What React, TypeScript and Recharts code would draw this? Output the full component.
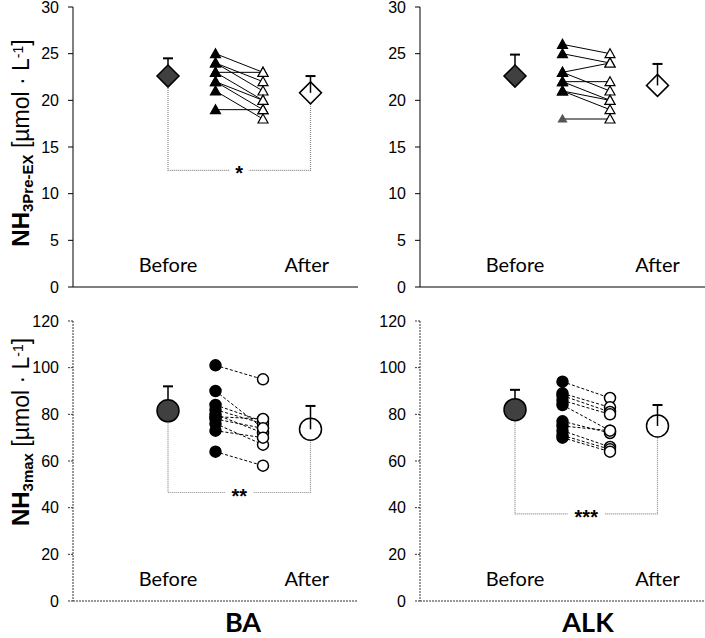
import React from "react";
import { ComposedChart, Scatter, XAxis, YAxis, ReferenceDot } from "recharts";

const X_TICKS = [0, 1, 2, 3];
const PRE_TICKS = [0, 5, 10, 15, 20, 25, 30];
const MAX_TICKS = [0, 20, 40, 60, 80, 100, 120];

// x positions (axis units) of the mean markers and of the individual subjects
const MEAN_X = [1, 2.5];
const SUBJ_X = [1.5, 2];

// NH3 pre-exercise, individual subjects (before -> after)
const BA_PRE_BEFORE = [25, 24, 24, 23, 23, 22, 22, 21, 19];
const BA_PRE_AFTER = [23, 22, 21, 23, 20, 20, 19, 18, 19];
const ALK_PRE_BEFORE = [26, 25, 23, 22, 23, 22, 21, 21, 18];
const ALK_PRE_AFTER = [25, 24, 24, 22, 21, 20, 19, 20, 18];

// NH3 max, individual subjects
const BA_MAX_BEFORE = [101, 90, 84, 82, 80, 79, 78, 76, 73, 64];
const BA_MAX_AFTER = [95, 74, 77, 76, 72, 78, 74, 67, 70, 58];
const ALK_MAX_BEFORE = [94, 89, 88, 86, 84, 77, 75, 73, 71, 70];
const ALK_MAX_AFTER = [87, 83, 81, 80, 73, 72, 73, 66, 65, 64];

// group means and SD [before, after]
const BA_PRE_MEAN = [22.6, 20.8];
const BA_PRE_SD = [1.9, 1.8];
const ALK_PRE_MEAN = [22.6, 21.6];
const ALK_PRE_SD = [2.3, 2.3];
const BA_MAX_MEAN = [81.5, 73.6];
const BA_MAX_SD = [10.5, 10];
const ALK_MAX_MEAN = [82, 75];
const ALK_MAX_SD = [8.5, 9];

// significance bracket level and stars
const BA_PRE_SIG = { level: 12.5, stars: "*" };
const BA_MAX_SIG = { level: 46.5, stars: "**" };
const ALK_MAX_SIG = { level: 37.3, stars: "***" };

const PHASES = ["Before", "After"];
const GROUPS = ["BA", "ALK"];

const TICK_FONT = "'Liberation Sans', Arial, sans-serif";
const LABEL_FONT = "Lato, 'Open Sans', sans-serif";

const empty = () => <g />;

function marker(kind: string, filled: boolean, big: boolean) {
  return (p: any) => {
    const { cx, cy, payload } = p;
    const fill = filled ? (big ? "#404040" : payload?.faint ? "#555" : "#000") : "#fff";
    const stroke = payload?.faint ? "#555" : "#000";
    if (kind === "tri" && !big) {
      const s = payload?.faint ? 4 : 5;
      return (
        <path
          d={`M${cx},${cy - s} L${cx + s},${cy + s - 1} L${cx - s},${cy + s - 1} Z`}
          fill={fill}
          stroke={stroke}
          strokeWidth={1.2}
        />
      );
    }
    if (kind === "tri") {
      const s = 11;
      return (
        <path
          d={`M${cx},${cy - s} L${cx + s},${cy} L${cx},${cy + s} L${cx - s},${cy} Z`}
          fill={fill}
          stroke="#000"
          strokeWidth={1.5}
        />
      );
    }
    return <circle cx={cx} cy={cy} r={big ? 11 : 5.5} fill={fill} stroke="#000" strokeWidth={1.5} />;
  };
}

const cap = (p: any) =>
  p.payload?.cap ? (
    <line x1={p.cx - 5} x2={p.cx + 5} y1={p.cy} y2={p.cy} stroke="#000" strokeWidth={2} />
  ) : (
    <g />
  );

interface PanelProps {
  left: number;
  top: number;
  width: number;
  yWidth: number;
  maxY: number;
  ticks: number[];
  before: number[];
  after: number[];
  mean: number[];
  sd: number[];
  kind: string;
  dashed: boolean;
  sig: { level: number; stars: string } | null;
  faint?: number[];
  afterLabelX: number;
}

function Panel(props: PanelProps) {
  const { left, top, width, yWidth, maxY, ticks, before, after, mean, sd, kind, dashed, sig, faint = [], afterLabelX } = props;
  const axisStyle = dashed ? { stroke: "#333", strokeDasharray: "2 1" } : { stroke: "#000" };
  const pairDash = dashed ? "3 2" : undefined;
  const labelY = maxY * 0.078;

  const beforePts = before.map((y, i) => ({ x: SUBJ_X[0], y, faint: faint.includes(i) }));
  const afterPts = after.map((y) => ({ x: SUBJ_X[1], y }));
  const errBefore = [
    { x: MEAN_X[0], y: mean[0] },
    { x: MEAN_X[0], y: mean[0] + sd[0], cap: true },
  ];
  const errAfter = [
    { x: MEAN_X[1], y: mean[1] },
    { x: MEAN_X[1], y: mean[1] + sd[1], cap: true },
  ];

  return (
    <div style={{ position: "absolute", left, top }}>
      <ComposedChart width={width} height={307} margin={{ top: 7, right: 2, bottom: 0, left: 0 }}>
        <XAxis
          type="number"
          dataKey="x"
          domain={[0, 3]}
          ticks={X_TICKS}
          tick={false}
          tickSize={5}
          height={20}
          axisLine={axisStyle}
          tickLine={axisStyle}
          allowDataOverflow
        />
        <YAxis
          type="number"
          dataKey="y"
          domain={[0, maxY]}
          ticks={ticks}
          interval={0}
          width={yWidth}
          tickSize={5}
          tickMargin={9}
          tick={{ fontSize: 16, fill: "#000", fontFamily: TICK_FONT }}
          axisLine={axisStyle}
          tickLine={axisStyle}
          allowDataOverflow
        />

        {sig && (
          <Scatter
            data={[
              { x: MEAN_X[0], y: mean[0] },
              { x: MEAN_X[0], y: sig.level },
              { x: MEAN_X[1], y: sig.level },
              { x: MEAN_X[1], y: mean[1] },
            ]}
            line={{ stroke: "#888", strokeWidth: 1.2, strokeDasharray: "1 1" }}
            shape={empty}
            isAnimationActive={false}
          />
        )}
        {sig && (
          <ReferenceDot
            x={1.75}
            y={sig.level}
            r={0}
            shape={(p: any) => (
              <g>
                <rect x={p.cx - 5 - 4.5 * sig.stars.length} y={p.cy - 6} width={10 + 9 * sig.stars.length} height={12} fill="#fff" />
                <text x={p.cx} y={p.cy + 10} textAnchor="middle" fontSize={20} fontWeight="bold" fontFamily={TICK_FONT} fill="#000">
                  {sig.stars}
                </text>
              </g>
            )}
          />
        )}

        {before.map((b, i) => (
          <Scatter
            key={`pair-${i}`}
            data={[
              { x: SUBJ_X[0], y: b },
              { x: SUBJ_X[1], y: after[i] },
            ]}
            line={{ stroke: "#000", strokeWidth: 1, strokeDasharray: pairDash }}
            shape={empty}
            isAnimationActive={false}
          />
        ))}

        <Scatter data={errBefore} line={{ stroke: "#000", strokeWidth: 1.5 }} shape={cap} isAnimationActive={false} />
        <Scatter data={[{ x: MEAN_X[0], y: mean[0] }]} shape={marker(kind, true, true)} isAnimationActive={false} />
        <Scatter data={[{ x: MEAN_X[1], y: mean[1] }]} shape={marker(kind, false, true)} isAnimationActive={false} />
        <Scatter data={errAfter} line={{ stroke: "#000", strokeWidth: 1.5 }} shape={cap} isAnimationActive={false} />

        <Scatter data={beforePts} shape={marker(kind, true, false)} isAnimationActive={false} />
        <Scatter data={afterPts} shape={marker(kind, false, false)} isAnimationActive={false} />

        {PHASES.map((ph, i) => (
          <ReferenceDot
            key={ph}
            x={i === 0 ? MEAN_X[0] : afterLabelX}
            y={labelY}
            r={0}
            shape={(p: any) => (
              <text x={p.cx} y={p.cy + 7} textAnchor="middle" fontSize={20} fontFamily={LABEL_FONT} fill="#000">
                {ph}
              </text>
            )}
          />
        ))}
      </ComposedChart>
    </div>
  );
}

function YTitle({ x, y, sub }: { x: number; y: number; sub: string }) {
  return (
    <div
      style={{
        position: "absolute",
        left: x,
        top: y,
        transform: "translate(-50%, -50%) rotate(-90deg)",
        whiteSpace: "nowrap",
        fontFamily: TICK_FONT,
        color: "#000",
        lineHeight: 1,
      }}
    >
      <span style={{ fontWeight: "bold", fontSize: 24 }}>NH</span>
      <sub style={{ fontWeight: "bold", fontSize: 15 }}>{sub}</sub>
      <span style={{ fontSize: 23 }}> [µmol · L</span>
      <sup style={{ fontSize: 14 }}>-1</sup>
      <span style={{ fontSize: 23 }}>]</span>
    </div>
  );
}

export default function App() {
  return (
    <div style={{ position: "absolute", left: 0, top: 0, width: 705, height: 638, background: "#fff", overflow: "hidden" }}>
      <Panel left={0} top={0} width={360} yWidth={73} maxY={30} ticks={PRE_TICKS}
        before={BA_PRE_BEFORE} after={BA_PRE_AFTER} mean={BA_PRE_MEAN} sd={BA_PRE_SD}
        kind="tri" dashed={false} sig={BA_PRE_SIG} afterLabelX={2.46} />
      <Panel left={370} top={0} width={337} yWidth={50} maxY={30} ticks={PRE_TICKS}
        before={ALK_PRE_BEFORE} after={ALK_PRE_AFTER} mean={ALK_PRE_MEAN} sd={ALK_PRE_SD}
        kind="tri" dashed={false} sig={null} faint={[8]} afterLabelX={2.5} />
      <Panel left={0} top={314} width={360} yWidth={73} maxY={120} ticks={MAX_TICKS}
        before={BA_MAX_BEFORE} after={BA_MAX_AFTER} mean={BA_MAX_MEAN} sd={BA_MAX_SD}
        kind="circle" dashed={true} sig={BA_MAX_SIG} afterLabelX={2.46} />
      <Panel left={370} top={314} width={337} yWidth={50} maxY={120} ticks={MAX_TICKS}
        before={ALK_MAX_BEFORE} after={ALK_MAX_AFTER} mean={ALK_MAX_MEAN} sd={ALK_MAX_SD}
        kind="circle" dashed={true} sig={ALK_MAX_SIG} afterLabelX={2.5} />

      <YTitle x={22} y={143} sub="3Pre-EX" />
      <YTitle x={22} y={432} sub="3max" />

      {GROUPS.map((g, i) => (
        <div
          key={g}
          style={{
            position: "absolute",
            left: i === 0 ? 243 : 588,
            top: 621,
            transform: "translate(-50%, -50%)",
            fontFamily: LABEL_FONT,
            fontWeight: "bold",
            fontSize: 27,
            lineHeight: 1,
          }}
        >
          {g}
        </div>
      ))}
    </div>
  );
}
